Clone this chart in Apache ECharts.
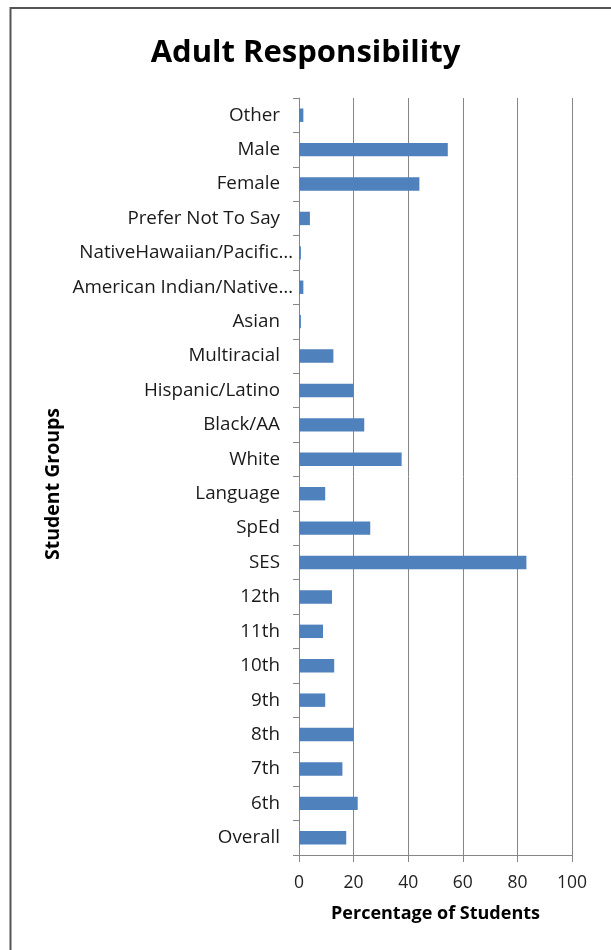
<!DOCTYPE html>
<html>
<head>
<meta charset="utf-8">
<script src="https://cdn.jsdelivr.net/npm/echarts@6/dist/echarts.min.js"></script>
<style>
html,body{margin:0;padding:0;background:#fff;}
#c{width:611px;height:950px;}
</style>
</head>
<body>
<div id="c"></div>
<script>
const categories = ['Overall','6th','7th','8th','9th','10th','11th','12th','SES','SpEd','Language','White','Black/AA','Hispanic/Latino','Multiracial','Asian','American Indian/Native\u2026','NativeHawaiian/Pacific\u2026','Prefer Not To Say','Female','Male','Other'];
const values = [17.3,21.5,15.9,20.0,9.6,12.9,8.8,12.1,83.3,26.1,9.6,37.6,23.9,19.9,12.6,0.7,1.6,0.7,4.0,44.1,54.5,1.6];
const xTicks = [0,20,40,60,80,100];

const chart = echarts.init(document.getElementById('c'));
const font = '"Open Sans", Lato, sans-serif';
chart.setOption({
  backgroundColor: '#ffffff',
  animation: false,
  title: {
    text: 'Adult Responsibility',
    left: 'center',
    top: 33,
    textStyle: {fontFamily: font, fontSize: 31, fontWeight: 'bold', color: '#000'}
  },
  graphic: [
    {type: 'rect', shape: {x: 10.5, y: 8, width: 800, height: 1100}, style: {fill: 'none', stroke: '#555', lineWidth: 2}, silent: true},
    {type: 'text', x: 53, y: 484, rotation: Math.PI/2, style: {text: 'Student Groups', fontFamily: font, fontSize: 19.5, fontWeight: 'bold', fill: '#000', align: 'center', verticalAlign: 'middle'}}
  ],
  grid: {left: 299, right: 39, top: 98, bottom: 95, containLabel: false},
  xAxis: {
    type: 'value', min: 0, max: 100, interval: 20,
    name: 'Percentage of Students', nameLocation: 'middle', nameGap: 50,
    nameTextStyle: {fontFamily: font, fontSize: 18, fontWeight: 'bold', color: '#000'},
    axisLine: {show: true, lineStyle: {color: '#868686', width: 1}},
    axisTick: {show: true, length: 7, lineStyle: {color: '#868686'}},
    axisLabel: {fontFamily: font, fontSize: 17.5, color: '#222', margin: 19, formatter: v => xTicks.includes(v) ? String(v) : ''},
    splitLine: {show: true, lineStyle: {color: '#868686', width: 1}}
  },
  yAxis: {
    type: 'category', data: categories,
    axisLine: {show: true, lineStyle: {color: '#868686', width: 1}},
    axisTick: {show: true, length: 6, inside: false, lineStyle: {color: '#868686'}},
    axisLabel: {
      fontFamily: font, fontSize: 18.8, color: '#1a1a1a', margin: 6, interval: 0,
      formatter: v => v.endsWith('\u2026') ? '{b|' + v + '}' : '{a|' + v + '}',
      rich: {
        a: {fontFamily: font, fontSize: 18.8, color: '#1a1a1a', padding: [0, 13, 0, 0]},
        b: {fontFamily: font, fontSize: 18.8, color: '#1a1a1a', padding: [0, 0, 0, 0]}
      }
    },
    splitLine: {show: false}
  },
  series: [{
    type: 'bar', data: values, barWidth: '39%',
    itemStyle: {color: '#4F81BD'}
  }]
});
</script>
</body>
</html>
